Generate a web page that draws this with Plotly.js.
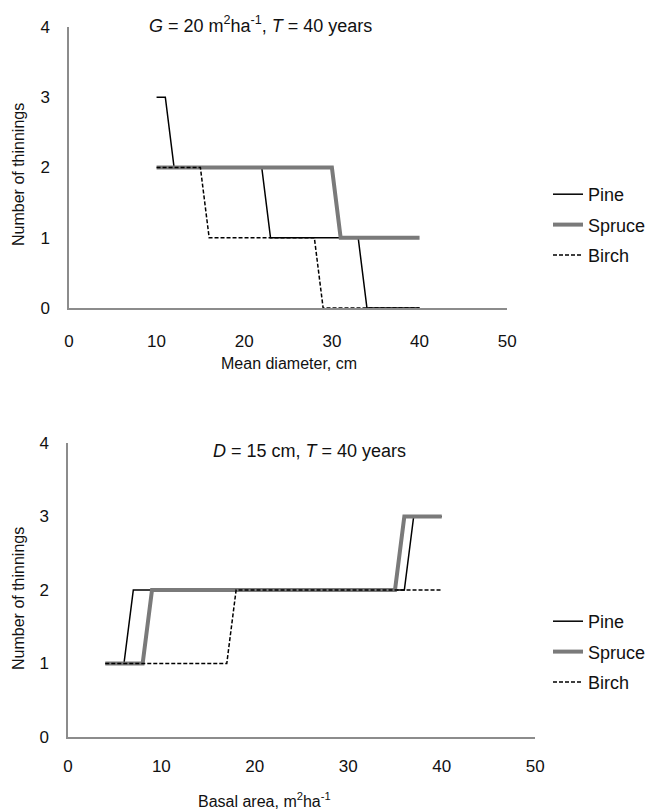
<!DOCTYPE html>
<html><head><meta charset="utf-8">
<script src="https://cdn.plot.ly/plotly-3.0.1.min.js"></script>
<style>html,body{margin:0;padding:0;background:#fff}#chart{width:651px;height:812px}</style>
</head><body><div id="chart"></div>
<script>
// ---- data ----
const species = ["Pine", "Spruce", "Birch"];

// Top panel: G = 20 m2/ha, T = 40 years; x = mean diameter (cm)
const diameter = [10,11,12,13,14,15,16,17,18,19,20,21,22,23,24,25,26,27,28,29,30,31,32,33,34,35,36,37,38,39,40];
const pineByDiameter   = [3,3,2,2,2,2,2,2,2,2,2,2,2,1,1,1,1,1,1,1,1,1,1,1,0,0,0,0,0,0,0];
const spruceByDiameter = [2,2,2,2,2,2,2,2,2,2,2,2,2,2,2,2,2,2,2,2,2,1,1,1,1,1,1,1,1,1,1];
const birchByDiameter  = [2,2,2,2,2,2,1,1,1,1,1,1,1,1,1,1,1,1,1,0,0,0,0,0,0,0,0,0,0,0,0];

// Bottom panel: D = 15 cm, T = 40 years; x = basal area (m2/ha)
const basalArea = [4,5,6,7,8,9,10,11,12,13,14,15,16,17,18,19,20,21,22,23,24,25,26,27,28,29,30,31,32,33,34,35,36,37,38,39,40];
const pineByBasal   = [1,1,1,2,2,2,2,2,2,2,2,2,2,2,2,2,2,2,2,2,2,2,2,2,2,2,2,2,2,2,2,2,2,3,3,3,3];
const spruceByBasal = [1,1,1,1,1,2,2,2,2,2,2,2,2,2,2,2,2,2,2,2,2,2,2,2,2,2,2,2,2,2,2,2,3,3,3,3,3];
const birchByBasal  = [1,1,1,1,1,1,1,1,1,1,1,1,1,1,2,2,2,2,2,2,2,2,2,2,2,2,2,2,2,2,2,2,2,2,2,2,2];

const xTicks = [0, 10, 20, 30, 40, 50];
const yTicks = [0, 1, 2, 3, 4];

// ---- styles ----
const FONT = "Liberation Sans, Arial, Helvetica, sans-serif";
const styles = {
  Pine:   {color: "#000000", width: 1.5, dash: "solid"},
  Spruce: {color: "#7a7a7a", width: 4,   dash: "solid"},
  Birch:  {color: "#000000", width: 1.5, dash: "4px,2px"}
};

const topSeries = {Pine: pineByDiameter, Spruce: spruceByDiameter, Birch: birchByDiameter};
const botSeries = {Pine: pineByBasal, Spruce: spruceByBasal, Birch: birchByBasal};

const traces = [];
species.forEach(s => traces.push({
  x: diameter, y: topSeries[s], name: s, type: "scatter", mode: "lines",
  xaxis: "x", yaxis: "y", legend: "legend", legendgroup: "t" + s,
  line: styles[s], hoverinfo: "x+y+name"
}));
species.forEach(s => traces.push({
  x: basalArea, y: botSeries[s], name: s, type: "scatter", mode: "lines",
  xaxis: "x2", yaxis: "y2", legend: "legend2", legendgroup: "b" + s,
  line: styles[s], hoverinfo: "x+y+name"
}));

const W = 651, H = 812;
const px = v => v / W;           // pixel -> paper x
const py = v => (H - v) / H;     // pixel (from top) -> paper y

const axisBase = {
  showline: true, linecolor: "#8c8c8c", linewidth: 1.5,
  showgrid: false, zeroline: false, ticks: "",
  tickfont: {family: FONT, size: 17, color: "#111"},
  automargin: false, fixedrange: true
};

const legendBase = {
  xanchor: "left", yanchor: "middle",
  traceorder: "grouped", tracegroupgap: 4,
  font: {family: FONT, size: 18, color: "#111"}, bgcolor: "rgba(0,0,0,0)"
};

const layout = {
  width: W, height: H,
  margin: {l: 0, r: 0, t: 0, b: 0},
  paper_bgcolor: "#fff", plot_bgcolor: "#fff",
  font: {family: FONT, color: "#111"},
  showlegend: true,
  xaxis:  Object.assign({}, axisBase, {domain: [px(69), px(508)], range: [0, 50], tickvals: xTicks, anchor: "y", ticklabelstandoff: 17}),
  yaxis:  Object.assign({}, axisBase, {domain: [py(308), py(27)], range: [0, 4], tickvals: yTicks, anchor: "x", ticklabelstandoff: 14}),
  xaxis2: Object.assign({}, axisBase, {domain: [px(68), px(536)], range: [0, 50], tickvals: xTicks, anchor: "y2", ticklabelstandoff: 13}),
  yaxis2: Object.assign({}, axisBase, {domain: [py(737), py(443)], range: [0, 4], tickvals: yTicks, anchor: "x2", ticklabelstandoff: 14}),
  legend:  Object.assign({}, legendBase, {x: px(549), y: py(225)}),
  legend2: Object.assign({}, legendBase, {x: px(549), y: py(652)}),
  annotations: [
    {text: "<i>G</i> = 20 m<sup>2</sup>ha<sup>-1</sup>, <i>T</i> = 40 years",
     xref: "paper", yref: "paper", x: px(261), y: py(25), xanchor: "center", yanchor: "middle",
     showarrow: false, font: {family: FONT, size: 18, color: "#111"}},
    {text: "<i>D</i> = 15 cm, <i>T</i> = 40 years",
     xref: "paper", yref: "paper", x: px(310), y: py(451), xanchor: "center", yanchor: "middle",
     showarrow: false, font: {family: FONT, size: 18, color: "#111"}},
    {text: "Mean diameter, cm",
     xref: "paper", yref: "paper", x: px(289), y: py(363), xanchor: "center", yanchor: "middle",
     showarrow: false, font: {family: FONT, size: 16, color: "#111"}},
    {text: "Basal area, m<sup>2</sup>ha<sup>-1</sup>",
     xref: "paper", yref: "paper", x: px(265), y: py(800), xanchor: "center", yanchor: "middle",
     showarrow: false, font: {family: FONT, size: 16, color: "#111"}},
    {text: "Number of thinnings", textangle: -90,
     xref: "paper", yref: "paper", x: px(18), y: py(174), xanchor: "center", yanchor: "middle",
     showarrow: false, font: {family: FONT, size: 16, color: "#111"}},
    {text: "Number of thinnings", textangle: -90,
     xref: "paper", yref: "paper", x: px(18), y: py(598), xanchor: "center", yanchor: "middle",
     showarrow: false, font: {family: FONT, size: 16, color: "#111"}}
  ]
};

Plotly.newPlot("chart", traces, layout, {staticPlot: true, displayModeBar: false});
</script>
</body></html>
